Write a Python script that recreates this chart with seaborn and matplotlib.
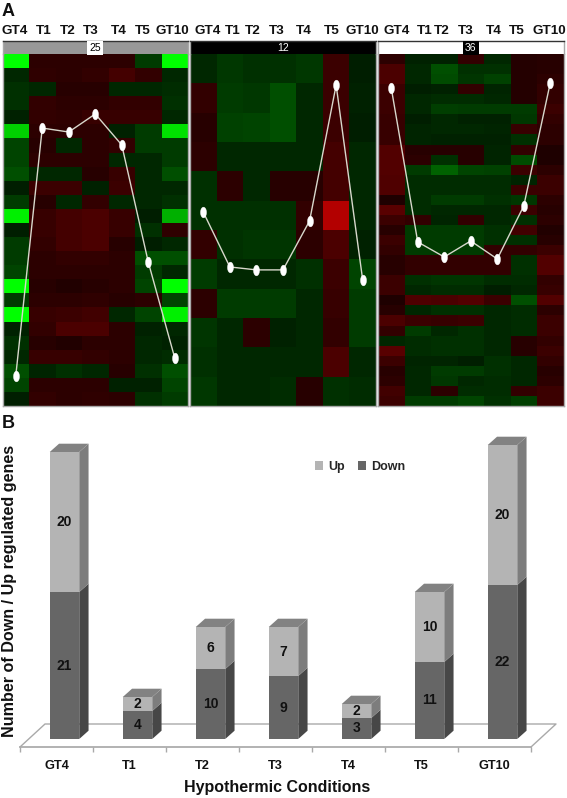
import numpy as np
import matplotlib
matplotlib.use("Agg")
import matplotlib.pyplot as plt
from matplotlib.colors import LinearSegmentedColormap
from matplotlib.patches import Polygon
from matplotlib.path import Path
from matplotlib.transforms import Affine2D
import seaborn as sns

conditions = ["GT4", "T1", "T2", "T3", "T4", "T5", "GT10"]

cluster25 = [
    [-1.0, .22, .22, .22, .22, -.3, -1.0],
    [-.2, .24, .22, .25, .35, .25, -.2],
    [-.25, -.2, .2, .2, -.2, -.2, -.22],
    [-.25, .25, .22, .22, .25, .25, -.25],
    [-.17, .25, .24, .28, .28, .28, -.2],
    [-.85, .22, .22, .22, -.17, -.3, -.9],
    [-.35, .2, -.2, .22, .25, -.3, -.3],
    [-.35, .22, .22, .22, -.2, -.2, -.3],
    [-.4, -.2, -.2, .2, .28, -.2, -.4],
    [-.15, .3, .3, -.17, .3, -.2, -.2],
    [-.3, .2, -.2, .25, -.2, -.2, -.25],
    [-.95, .28, .35, .38, .28, -.15, -.75],
    [-.15, .28, .35, .38, .28, -.25, .24],
    [-.3, .25, .35, .38, .2, -.15, -.2],
    [-.3, .22, .25, .25, .22, -.4, -.4],
    [-.35, .22, .22, .22, .22, -.3, -.2],
    [-1.0, .2, .17, .2, .22, -.35, -1.0],
    [-.3, .22, .22, .24, .2, .22, -.35],
    [-1.0, .28, .3, .33, -.2, -.35, -.95],
    [-.17, .25, .38, .38, .22, -.17, -.2],
    [-.25, .2, .17, .22, .22, -.2, -.17],
    [-.2, .28, .28, .25, .22, -.2, -.22],
    [-.4, -.18, -.25, -.2, .2, -.25, -.4],
    [-.35, .22, .22, .22, -.17, -.17, -.35],
    [-.15, .25, .22, .24, .22, -.25, -.3],
]
cluster12 = [
    [-.2, -.28, -.25, -.25, -.28, .3, -.15],
    [.25, -.3, -.28, -.4, -.2, .3, -.17],
    [.2, -.33, -.35, -.4, -.2, .3, -.15],
    [.22, -.2, -.2, -.2, -.2, .35, -.2],
    [-.25, .22, -.2, .2, .2, .35, -.2],
    [-.25, -.25, -.25, -.25, .25, .75, -.2],
    [.25, -.25, -.27, -.27, .22, .38, -.17],
    [-.3, -.2, -.2, -.2, -.25, .3, -.35],
    [.22, -.3, -.3, -.3, -.2, .28, -.3],
    [-.27, -.2, .22, -.17, -.2, .25, -.3],
    [-.25, -.2, -.2, -.2, -.2, .38, -.2],
    [-.28, -.2, -.2, -.22, .2, -.25, -.22],
]
cluster36 = [
    [.22, -.17, -.17, .25, -.2, .18, .2],
    [.38, -.2, -.4, -.25, -.25, .18, .2],
    [.38, -.2, -.38, -.27, -.33, .18, .22],
    [.3, -.15, -.17, .25, -.18, .18, .25],
    [.3, -.2, -.22, -.22, -.2, .18, .25],
    [.3, -.2, -.32, -.3, -.3, -.3, .3],
    [.28, -.15, -.2, -.17, -.17, -.28, .25],
    [.28, -.18, -.2, -.2, -.18, .28, .22],
    [.28, -.18, -.17, -.17, -.17, -.25, .22],
    [.42, .2, .2, .2, -.18, .25, .15],
    [.42, .22, -.25, .2, -.18, -.38, .15],
    [.42, -.3, -.5, -.35, -.33, .3, .22],
    [.4, -.22, -.22, -.22, -.22, -.18, .3],
    [.4, -.22, -.22, -.22, -.22, .3, .3],
    [.15, -.22, -.3, -.3, -.25, -.28, .22],
    [.45, -.22, -.2, -.2, -.2, .3, .2],
    [.3, .25, -.18, .25, -.2, -.25, .22],
    [.2, -.3, -.3, -.3, -.25, .33, .17],
    [.3, -.3, -.3, -.3, -.25, -.25, .2],
    [.25, -.3, -.3, -.3, .25, .25, .3],
    [.2, .25, .25, .25, .25, -.25, .42],
    [.2, .25, .25, .25, .25, -.25, .42],
    [.3, -.25, -.27, -.27, -.22, -.22, .25],
    [.3, -.2, -.22, -.22, -.15, -.2, .28],
    [.15, .4, .38, .42, .3, -.4, .42],
    [.2, -.2, -.25, -.25, -.2, -.22, .22],
    [.38, .3, .28, .3, -.2, -.22, .3],
    [.25, -.3, -.2, -.25, -.2, -.22, .3],
    [-.2, -.22, -.25, -.25, -.2, .2, .25],
    [.45, -.22, -.25, -.25, -.2, .2, .3],
    [.3, -.18, -.18, -.15, -.25, -.2, .25],
    [.2, -.2, -.3, -.3, -.25, -.2, .2],
    [.22, -.2, -.28, -.2, -.22, -.2, .22],
    [.33, -.2, .22, -.22, -.22, .25, .3],
    [.3, -.3, -.3, -.35, -.25, -.32, .3],
]
# profile lines, read in row units of each heat map
profile25 = [22.87, 5.26, 5.54, 4.26, 6.46, 14.77, 21.59]
profile12 = [5.39, 7.26, 7.36, 7.36, 5.69, 1.06, 7.71]
profile36 = [3.38, 18.69, 20.18, 18.59, 20.38, 15.11, 2.88]
cluster_names = ["25", "12", "36"]

down_counts = [21, 4, 10, 9, 3, 11, 22]
up_counts = [20, 2, 6, 7, 2, 10, 20]

W, H = 567, 798
BOLD = ["Liberation Sans", "DejaVu Sans"]
NARROW = ["Liberation Sans Narrow", "Liberation Sans", "DejaVu Sans"]
INK = "#111111"
sns.set_theme(style="white", font="Liberation Sans")
plt.rcParams["font.family"] = BOLD
fig = plt.figure(figsize=(W / 100, H / 100), dpi=100, facecolor="white")


def px_axes(x0, x1, y0, y1):
    return fig.add_axes([x0 / W, 1 - y1 / H, (x1 - x0) / W, (y1 - y0) / H])


# mid-range a little darker than a plain green-black-red ramp
cmap = LinearSegmentedColormap.from_list(
    "gbr", [(0, "#00ff00"), (.25, "#006200"), (.5, "#000000"), (.75, "#620000"), (1, "#ff0000")])
dot = Path.unit_circle().transformed(Affine2D().scale(0.56, 1))

panels = [
    (2.5, 188, cluster25, profile25, "#989898", "black", "white",
     [15, 44, 68, 91, 119, 143, 172]),
    (190, 376, cluster12, profile12, "black", "white", "black",
     [208, 233, 253, 277, 304, 332, 362]),
    (378, 563.5, cluster36, profile36, "white", "white", "black",
     [397, 425, 442, 466, 494, 517, 549]),
]
for (x0, x1, matrix, profile, band, txt, box, lab_px), name in zip(panels, cluster_names):
    ax = px_axes(x0, x1, 54, 406)
    sns.heatmap(np.array(matrix), ax=ax, cmap=cmap, vmin=-1, vmax=1, cbar=False,
                xticklabels=False, yticklabels=False)
    sns.lineplot(x=np.arange(7) + .5, y=profile, ax=ax, sort=False, color="#d8d8cc",
                 lw=1, marker=dot, markersize=7.7, markerfacecolor="white",
                 markeredgecolor="white", markeredgewidth=0.3, errorbar=None)
    ax.set(xlabel="", ylabel="", xlim=(0, 7), ylim=(len(matrix), 0))
    for s in ("left", "right", "bottom"):
        ax.spines[s].set_visible(True)
        ax.spines[s].set_color("#a8a8a8")
        ax.spines[s].set_linewidth(1)
    ax.spines["top"].set_visible(False)

    hd = px_axes(x0, x1, 41, 54)
    hd.set_facecolor(band)
    hd.set(xlim=(x0, x1), ylim=(0, 1), yticks=[])
    hd.xaxis.tick_top()
    hd.set_xticks(lab_px, conditions, fontsize=9.7, fontweight="bold", color=INK)
    hd.tick_params(axis="x", length=0, pad=3)
    for s in hd.spines.values():
        s.set_color("#a8a8a8")
        s.set_linewidth(1)
    hd.spines["top"].set_color("#333333")
    hd.spines["bottom"].set_visible(False)
    hd.text((x0 + x1) / 2, .46, name, ha="center", va="center", fontsize=7.5, color=txt,
            family=NARROW,
            bbox=None if band == "black" else dict(boxstyle="square,pad=0.2", fc=box, ec="none"))

fig.text(2 / W, 1 - 16 / H, "A", fontsize=13, fontweight="bold", color=INK)
fig.text(2 / W, 1 - 428 / H, "B", fontsize=13, fontweight="bold", color=INK)

# ---- panel B ----
PX_PER_UNIT = 7
AX_X0, AX_X1, AX_TOP, AX_BOT = 20, 531, 430, 747
BASE = 739
ax = px_axes(AX_X0, AX_X1, AX_TOP, AX_BOT)
ax.patch.set_alpha(0)
DOWN_C, UP_C = "#666666", "#b4b4b4"
DOWN_S, UP_S, TOP_C = "#474747", "#7d7d7d", "#828282"
cat_px = (AX_X1 - AX_X0) / 7
bar_w = 29.5 / cat_px
shift = 8 / cat_px
dx, dy = 9.3 / cat_px, 8.3 / PX_PER_UNIT

sns.barplot(x=conditions, y=down_counts, order=conditions, ax=ax, color=DOWN_C,
            saturation=1, width=bar_w, label="Down", zorder=3, edgecolor="none", linewidth=0)
sns.barplot(x=conditions, y=up_counts, order=conditions, ax=ax, color=UP_C,
            saturation=1, width=bar_w, label="Up", bottom=down_counts, zorder=3,
            edgecolor="none", linewidth=0)
ax.set_xlim(-.5, 6.5)
ax.set_ylim((BASE - AX_BOT) / PX_PER_UNIT, (BASE - AX_TOP) / PX_PER_UNIT)

for cont, side in zip(ax.containers, (DOWN_S, UP_S)):
    for r in cont:
        r.set_x(r.get_x() + shift)
        x, w, y, h = r.get_x(), r.get_width(), r.get_y(), r.get_height()
        ax.add_patch(Polygon([(x + w, y), (x + w + dx, y + dy), (x + w + dx, y + h + dy), (x + w, y + h)],
                             fc=side, ec="none", zorder=3, clip_on=False))
        if side == UP_S:
            ax.add_patch(Polygon([(x, y + h), (x + w, y + h), (x + w + dx, y + h + dy), (x + dx, y + h + dy)],
                                 fc=TOP_C, ec="none", zorder=3, clip_on=False))
    ax.bar_label(cont, label_type="center", fontsize=10, fontweight="bold", color=INK,
                 zorder=5, family=NARROW)

# floor of the 3-D frame
fx, fy = 25 / cat_px, 23 / PX_PER_UNIT
y_front = (BASE - AX_BOT) / PX_PER_UNIT
floor_kw = dict(color="#a9a9a9", lw=1, zorder=1, clip_on=False)
ax.plot([-.5, -.5 + fx, 6.5 + fx, 6.5], [y_front, y_front + fy, y_front + fy, y_front], **floor_kw)

sns.despine(ax=ax, left=True, right=True, top=True)
ax.spines["bottom"].set_color("#a9a9a9")
ax.set_yticks([])
ax.set_xticks(np.arange(7), conditions, fontsize=9.2, fontweight="bold", color=INK)
ax.set_xticks(np.arange(8) - .5, minor=True)
ax.tick_params(axis="x", which="major", length=0, pad=9.5, bottom=False)
ax.tick_params(axis="x", which="minor", length=3.5, width=1, color="#a9a9a9", bottom=True)

ax.set_xlabel("Hypothermic Conditions", fontsize=11.5, fontweight="bold", color=INK)
ax.xaxis.set_label_coords((277 - AX_X0) / (AX_X1 - AX_X0), -(780 - AX_BOT) / (AX_BOT - AX_TOP))
ax.set_ylabel("Number of Down / Up regulated genes", fontsize=11.6, fontweight="bold", color=INK)
ax.yaxis.set_label_coords((17 - AX_X0) / (AX_X1 - AX_X0), (AX_BOT - 591) / (AX_BOT - AX_TOP))

h, l = ax.get_legend_handles_labels()
leg = ax.legend(h[::-1], l[::-1], ncol=2, frameon=False, loc="center",
                bbox_to_anchor=((360 - AX_X0) / (AX_X1 - AX_X0), (AX_BOT - 467) / (AX_BOT - AX_TOP)),
                handlelength=.7, handleheight=.7, handletextpad=.4, columnspacing=1.0,
                prop=dict(weight="bold", size=9))

fig.savefig("out.png", dpi=100, facecolor="white")
